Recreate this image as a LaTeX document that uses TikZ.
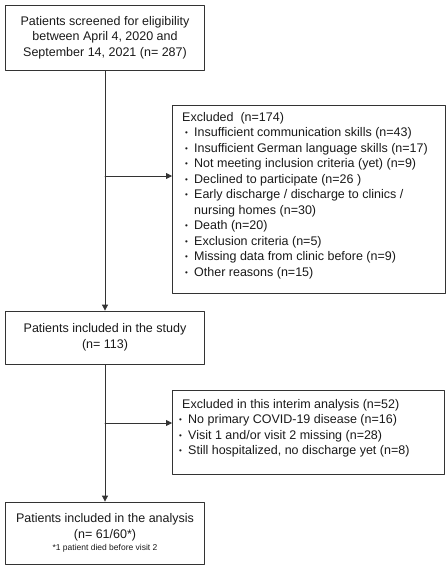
\documentclass[tikz,border=0pt]{standalone}
\usepackage{fontspec}
\setmainfont{Liberation Sans}
\usetikzlibrary{arrows.meta,positioning}
\newcommand{\bitem}[1]{\hspace{3pt}\makebox[9pt][l]{\raisebox{1pt}{\footnotesize\textbullet}}#1}

\begin{document}
\begin{tikzpicture}[x=1pt,y=-1pt,line cap=round,line join=round,
  box/.style={draw=black!80,line width=.8pt,rectangle,inner sep=0pt},
  boxtext/.style={font=\fontsize{12.5}{15.5}\selectfont,align=center,text=black!90},
  listtext/.style={font=\fontsize{12.5}{15.5}\selectfont,align=left,text=black!90,inner sep=0pt},
  arr/.style={draw=black!80,line width=.8pt,-{Triangle[length=6pt,width=6pt]}}]
\path[use as bounding box] (0,0) rectangle (447,571);
\node[box,boxtext,minimum width=199pt,minimum height=65pt] (screen) at (105,37.5) {Patients screened for eligibility\\between April 4, 2020 and\\September 14, 2021 (n= 287)};
\node[box,minimum width=273pt,minimum height=188pt,anchor=north west] (excl) at (172,105) {};
\node[listtext,anchor=north west] (excllist) at (182,112) {Excluded\ \ (n=174)\\
  \bitem{Insufficient communication skills (n=43)}\\
  \bitem{Insufficient German language skills (n=17)}\\
  \bitem{Not meeting inclusion criteria (yet) (n=9)}\\
  \bitem{Declined to participate (n=26 )}\\
  \bitem{Early discharge / discharge to clinics /}\\
  \hspace{12pt}nursing homes (n=30)\\
  \bitem{Death (n=20)}\\
  \bitem{Exclusion criteria (n=5)}\\
  \bitem{Missing data from clinic before (n=9)}\\
  \bitem{Other reasons (n=15)}};
\node[box,boxtext,minimum width=199pt,minimum height=53pt] (incl) at (105,337.5) {Patients included in the study\\(n= 113)};
\node[box,minimum width=272pt,minimum height=84pt,anchor=north west] (interim) at (172,390) {};
\node[listtext,anchor=north west] (interimlist) at (176,399) {\hspace{6pt}Excluded in this interim analysis (n=52)\\
  \bitem{No primary COVID-19 disease (n=16)}\\
  \bitem{Visit 1 and/or visit 2 missing (n=28)}\\
  \bitem{Still hospitalized, no discharge yet (n=8)}};
\node[box,boxtext,minimum width=199pt,minimum height=62pt] (anal) at (105,533) {Patients included in the analysis\\(n= 61/60*)\\[-3pt]{\fontsize{8.5}{10}\selectfont *1 patient died before visit 2}};
\coordinate (br1) at (105,176);
\coordinate (br2) at (105,423);
\draw[arr] (screen) -- (incl);
\draw[arr] (br1) -- (br1 -| excl.west);
\draw[arr] (incl) -- (anal);
\draw[arr] (br2) -- (br2 -| interim.west);
\end{tikzpicture}
\end{document}
